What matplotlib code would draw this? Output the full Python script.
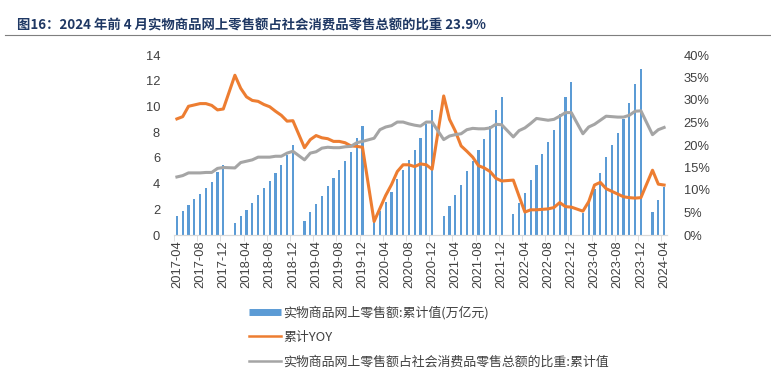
# Online retail sales of physical goods: cumulative value, YoY and share of total retail
import matplotlib
matplotlib.use("Agg")
import matplotlib.pyplot as plt
from matplotlib.lines import Line2D
from matplotlib.ticker import FuncFormatter, MultipleLocator

plt.rcParams["font.family"] = ["Noto Sans CJK SC", "DejaVu Sans"]

# months with data (January is merged into February in the source)
YEARS = [2017, 2018, 2019, 2020, 2021, 2022, 2023, 2024]
MONTHS = {
    2017: [4, 5, 6, 7, 8, 9, 10, 11, 12],
    2018: [2, 3, 4, 5, 6, 7, 8, 9, 10, 11, 12],
    2019: [2, 3, 4, 5, 6, 7, 8, 9, 10, 11, 12],
    2020: [2, 3, 4, 5, 6, 7, 8, 9, 10, 11, 12],
    2021: [2, 3, 4, 5, 6, 7, 8, 9, 10, 11, 12],
    2022: [2, 3, 4, 5, 6, 7, 8, 9, 10, 11, 12],
    2023: [2, 3, 4, 5, 6, 7, 8, 9, 10, 11, 12],
    2024: [2, 3, 4],
}

# cumulative online retail sales of physical goods (trillion yuan)
sales = [
    1.48, 1.89, 2.33, 2.78, 3.19, 3.66, 4.15, 4.90, 5.47,
    0.91, 1.48, 1.94, 2.46, 3.08, 3.66, 4.17, 4.80, 5.42, 6.22, 6.97,
    1.09, 1.78, 2.41, 3.03, 3.80, 4.41, 5.04, 5.72, 6.47, 7.53, 8.48,
    1.05, 1.85, 2.57, 3.33, 4.33, 5.09, 5.83, 6.61, 7.53, 8.60, 9.72,
    1.48, 2.28, 3.11, 3.89, 4.99, 5.78, 6.61, 7.46, 8.48, 9.72, 10.73,
    1.63, 2.51, 3.29, 4.28, 5.42, 6.30, 7.23, 8.16, 9.41, 10.70, 11.92,
    1.74, 2.77, 3.55, 4.80, 6.04, 6.97, 7.90, 9.00, 10.24, 11.74, 12.90,
    1.80, 2.70, 3.70,
]

# cumulative YoY (%)
yoy = [
    25.8, 26.3, 28.6, 28.9, 29.2, 29.2, 28.8, 27.8, 28.0,
    35.5, 32.6, 30.7, 29.9, 29.7, 29.0, 28.5, 27.5, 26.6, 25.3, 25.4,
    19.4, 21.2, 22.1, 21.6, 21.4, 20.8, 20.8, 20.5, 19.8, 19.7, 19.5,
    3.0, 5.9, 8.8, 11.2, 14.1, 15.6, 15.6, 15.2, 15.8, 15.6, 14.6,
    30.9, 25.7, 23.1, 19.8, 18.6, 17.3, 15.4, 14.9, 14.1, 12.6, 12.0,
    12.2, 8.6, 5.1, 5.6, 5.6, 5.7, 5.8, 6.1, 7.2, 6.3, 6.2,
    5.3, 7.4, 11.1, 11.7, 10.3, 9.7, 9.1, 8.5, 8.3, 8.2, 8.3,
    14.4, 11.3, 11.1,
]

# share in total retail sales of consumer goods (%)
share = [
    12.9, 13.2, 13.8, 13.8, 13.8, 13.9, 13.9, 14.8, 15.0,
    14.9, 16.1, 16.4, 16.7, 17.3, 17.3, 17.3, 17.5, 17.5, 18.2, 18.6,
    16.7, 18.2, 18.5, 19.3, 19.5, 19.4, 19.4, 19.6, 19.7, 20.5, 20.8,
    21.5, 23.4, 24.0, 24.3, 25.1, 25.1, 24.7, 24.4, 24.2, 25.1, 25.1,
    21.2, 22.0, 22.3, 22.5, 23.4, 23.7, 23.6, 23.6, 23.8, 24.6, 24.5,
    21.8, 23.2, 23.8, 24.8, 25.9, 25.7, 25.5, 25.7, 26.4, 27.2, 27.2,
    22.5, 24.0, 24.6, 25.5, 26.4, 26.3, 26.2, 26.2, 26.6, 27.5, 27.6,
    22.3, 23.4, 23.9,
]

TITLE = "图16：2024 年前 4 月实物商品网上零售额占社会消费品零售总额的比重 23.9%"
LABEL_BAR = "实物商品网上零售额:累计值(万亿元)"
LABEL_YOY = "累计YOY"
LABEL_SHARE = "实物商品网上零售额占社会消费品零售总额的比重:累计值"

BLUE = "#5B9BD5"
ORANGE = "#ED7D31"
GRAY = "#A5A5A5"

# month index on a continuous monthly axis starting at 2017-04
x = [(y - 2017) * 12 + (m - 4) for y in YEARS for m in MONTHS[y]]
n_months = (2024 - 2017) * 12 + (4 - 4)
tick_pos = list(range(0, n_months + 1, 4))
tick_labels = [f"{2017 + (4 + i - 1) // 12}-{(4 + i - 1) % 12 + 1:02d}" for i in tick_pos]

fig = plt.figure(figsize=(7.71, 3.80), dpi=100)
ax = fig.add_axes([174 / 771, 1 - 235 / 380, (667 - 174) / 771, (235 - 55) / 380])
ax2 = ax.twinx()

# bars on the left axis
ax.bar(x, sales, width=0.38, color=BLUE, label=LABEL_BAR, zorder=2)
ax.set_ylim(0, 14)
ax.yaxis.set_major_locator(MultipleLocator(2))
ax.set_xlim(-0.5, n_months + 0.5)

# lines on the right axis
ax2.plot(x, yoy, color=ORANGE, lw=2.2, solid_joinstyle="round", label=LABEL_YOY, zorder=3)
ax2.plot(x, share, color=GRAY, lw=2.2, solid_joinstyle="round", label=LABEL_SHARE, zorder=3)
ax2.set_ylim(0, 40)
ax2.yaxis.set_major_locator(MultipleLocator(5))
ax2.yaxis.set_major_formatter(FuncFormatter(lambda v, p: f"{v:.0f}%"))

tick_font = dict(family=["Liberation Sans", "DejaVu Sans"], size=9.3, color="#404040")
ax.set_xticks(tick_pos)
ax.set_xticklabels(tick_labels, rotation=90, **tick_font)
ax.set_xticks([p - 0.5 for p in tick_pos], minor=True)
ax.tick_params(axis="x", which="major", length=0, pad=4)
ax.tick_params(axis="x", which="minor", length=4, color="#D9D9D9")
ax.tick_params(axis="y", length=0, pad=10)
ax2.tick_params(axis="y", length=0, pad=12)
for lab in ax.get_yticklabels() + ax2.get_yticklabels():
    lab.set_fontfamily(["Liberation Sans", "DejaVu Sans"])
    lab.set_fontsize(9.3)
    lab.set_color("#404040")

for a in (ax, ax2):
    for side in ("left", "right", "top"):
        a.spines[side].set_visible(False)
    a.spines["bottom"].set_color("#D9D9D9")

# legend stacked below the plot
handles = [
    Line2D([0], [0], color=BLUE, lw=5, solid_capstyle="butt"),
    Line2D([0], [0], color=ORANGE, lw=1.8),
    Line2D([0], [0], color=GRAY, lw=1.8),
]
fig.legend(handles, [LABEL_BAR, LABEL_YOY, LABEL_SHARE],
           loc="upper left", bbox_to_anchor=(237 / 771, 1 - 294 / 380),
           frameon=False, fontsize=9.3, ncol=1, handlelength=2.5,
           handletextpad=0.2, labelspacing=0.9, labelcolor="#404040")

# title and rule
fig.text(17 / 771, 1 - 25 / 380, TITLE, fontsize=9.6, fontweight="bold",
         color="#1F3864", va="center", ha="left")
fig.add_artist(Line2D([5 / 771, 1.0], [1 - 35 / 380] * 2, color="#7F7F7F", lw=0.8))

fig.savefig("out.png", dpi=100)
